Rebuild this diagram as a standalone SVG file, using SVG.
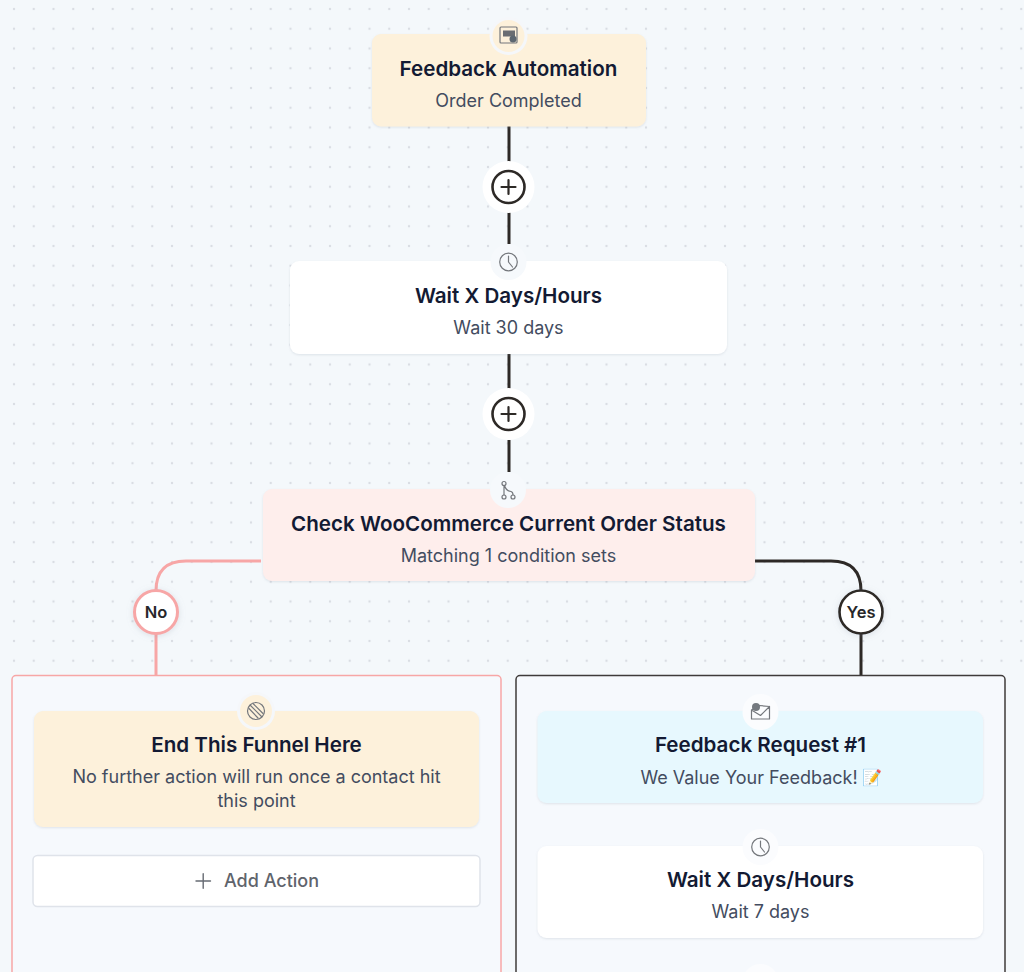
<svg xmlns="http://www.w3.org/2000/svg" width="1024" height="972" viewBox="0 0 1024 972">
<style>
text{font-family:Inter,"Noto Sans","Liberation Sans",sans-serif;text-anchor:middle}
.t{font-size:20.6px;font-weight:600;fill:#131a33}
.s{font-size:18px;font-weight:400;fill:#434c60}
.b{font-size:16.5px;font-weight:600;fill:#27272a}
.card{filter:url(#sh)}
.conn{fill:none;stroke:#2d2926;stroke-width:3}
.pink{fill:none;stroke:#f7a6a6;stroke-width:3}
.ic{fill:none;stroke:#74777c;stroke-width:1.2;stroke-linecap:round;stroke-linejoin:round}
</style>
<defs>
<pattern id="dots" width="19.75" height="19.75" patternUnits="userSpaceOnUse" x="4.1" y="-0.9">
<circle cx="9.9" cy="9.9" r="1.2" fill="#d9dde3"/>
</pattern>
<filter id="sh" x="-5%" y="-10%" width="110%" height="125%">
<feDropShadow dx="0" dy="1" stdDeviation="1.2" flood-color="#8a94a6" flood-opacity="0.22"/>
</filter>
<filter id="sh2" x="-30%" y="-30%" width="160%" height="160%">
<feDropShadow dx="0" dy="1" stdDeviation="3" flood-color="#8a94a6" flood-opacity="0.25"/>
</filter>
<g id="clock"><circle r="8.8" class="ic"/><path class="ic" d="M0-6V0L4 5"/></g>
</defs>
<rect width="1024" height="972" fill="#f4f8fb"/>
<rect width="1024" height="675" fill="url(#dots)"/>

<g id="connectors">
<path class="conn" d="M509 126V162M509 212V244M509 354V390M509 440V472"/>
<path class="pink" d="M261 561H186Q156 561 156 591V675"/>
<path class="conn" d="M755 561H831Q861 561 861 591V675"/>
</g>

<g id="add-1"><circle cx="508.500" cy="187" r="26" fill="#fff"/><circle cx="508.500" cy="187" r="16" fill="none" stroke="#2d2926" stroke-width="2.600"/><path d="M501.500 187H515.500M508.500 180V194" stroke="#2d2926" stroke-width="2.200" stroke-linecap="round"/></g>
<g id="add-2"><circle cx="508.500" cy="414" r="26" fill="#fff"/><circle cx="508.500" cy="414" r="16" fill="none" stroke="#2d2926" stroke-width="2.600"/><path d="M501.500 414H515.500M508.500 407V421" stroke="#2d2926" stroke-width="2.200" stroke-linecap="round"/></g>

<g id="node-feedback-automation">
<rect class="card" x="372" y="34" width="274" height="92.500" rx="9" fill="#fdf1db"/>
<circle cx="508.500" cy="36" r="19" fill="#f5f7fa"/><circle cx="508.500" cy="36" r="16" fill="#fdf1db"/>
<rect class="ic" x="500" y="27" width="17" height="16" rx="1"/><rect x="503" y="30.500" width="12" height="6" fill="#6a6d72"/><circle cx="513" cy="39" r="3.500" fill="#5c6670"/>
<text class="t" x="508.500" y="75.500">Feedback Automation</text>
<text class="s" x="508.500" y="106.500">Order Completed</text>
</g>

<g id="node-wait-30">
<rect class="card" x="290" y="261" width="437" height="93" rx="9" fill="#fff"/>
<circle cx="508.500" cy="262" r="18" fill="#f6f9fc"/><use href="#clock" x="508.500" y="262"/>
<text class="t" x="508.500" y="303">Wait X Days/Hours</text>
<text class="s" x="508.500" y="334">Wait 30 days</text>
</g>

<g id="node-check-status">
<rect class="card" x="263" y="489" width="492" height="92" rx="9" fill="#feeeec"/>
<circle cx="508" cy="490" r="18" fill="#f6f9fc"/>
<g class="ic"><circle cx="504" cy="483.500" r="2"/><circle cx="504" cy="497" r="2"/><circle cx="513" cy="497" r="2"/><path d="M504 485.500V495M504.500 485.500Q506 491 511 491.500Q513 492 513 495"/></g>
<text class="t" x="508.500" y="531">Check WooCommerce Current Order Status</text>
<text class="s" x="508.500" y="561.500">Matching 1 condition sets</text>
</g>

<g id="panel-no">
<rect x="12" y="675.500" width="489" height="320" rx="4" fill="#f6f9fd" stroke="#f7a6a6" stroke-width="1.500"/>
</g>
<g id="panel-yes">
<rect x="516" y="675.500" width="489" height="320" rx="4" fill="#f6f9fd" stroke="#3f3b3a" stroke-width="1.500"/>
</g>

<g id="badge-no"><circle cx="156" cy="612" r="21.500" fill="#fff" stroke="#f7a6a6" stroke-width="3" style="filter:url(#sh2)"/><text class="b" x="156" y="618">No</text></g>
<g id="badge-yes"><circle cx="861" cy="612" r="21.500" fill="#fff" stroke="#2d2926" stroke-width="2.600" style="filter:url(#sh2)"/><text class="b" x="861" y="618">Yes</text></g>

<g id="node-end-funnel">
<rect class="card" x="34" y="711" width="445" height="116" rx="9" fill="#fdf1db"/>
<circle cx="256" cy="711" r="19" fill="#f5f7fa"/><circle cx="256" cy="711" r="16" fill="#fdf1db"/>
<circle cx="256" cy="711" r="8.500" class="ic"/><path class="ic" d="M250.500 705.500L261.500 716.500M253 703.500L263 713.500M249 708.500L258 718"/>
<text class="t" x="256.500" y="752">End This Funnel Here</text>
<text class="s" x="256.500" y="783">No further action will run once a contact hit</text>
<text class="s" x="256.500" y="807">this point</text>
</g>

<g id="add-action">
<rect x="33" y="855.500" width="447" height="51" rx="4.500" fill="#fff" stroke="#dfe3ea" stroke-width="1.500"/>
<path d="M196 881H210.500M203.200 873.700V888.300" stroke="#666b73" stroke-width="1.400" stroke-linecap="round"/>
<text x="271.500" y="887" style="font-size:18px;font-weight:500;fill:#5f646c">Add Action</text>
</g>

<g id="node-feedback-request">
<rect class="card" x="537.500" y="711" width="445.500" height="92" rx="9" fill="#e7f8fe"/>
<circle cx="760.500" cy="712" r="18" fill="#fbfcfe"/>
<path class="ic" d="M751.500 710L759 705.500L769.500 706.500V719H751.500ZM751.500 710L760.500 715.500L769.500 706.500"/><circle cx="756" cy="707" r="4" fill="#74797f"/>
<text class="t" x="760.500" y="752">Feedback Request #1</text>
<text class="s" x="749" y="783.500">We Value Your Feedback!</text>
<text x="872" y="783" style="font-size:16px;font-family:'Noto Color Emoji','Noto Sans',sans-serif">📝</text>
</g>

<g id="node-wait-7">
<rect class="card" x="537.500" y="846" width="445.500" height="92" rx="9" fill="#fff"/>
<circle cx="760.500" cy="847" r="18" fill="#fbfcfe"/><use href="#clock" x="760.500" y="847"/>
<text class="t" x="760.500" y="887">Wait X Days/Hours</text>
<text class="s" x="760.500" y="918">Wait 7 days</text>
</g>

<g id="next-node-icon"><circle cx="760.500" cy="982" r="18" fill="#fbfcfe"/></g>
</svg>
